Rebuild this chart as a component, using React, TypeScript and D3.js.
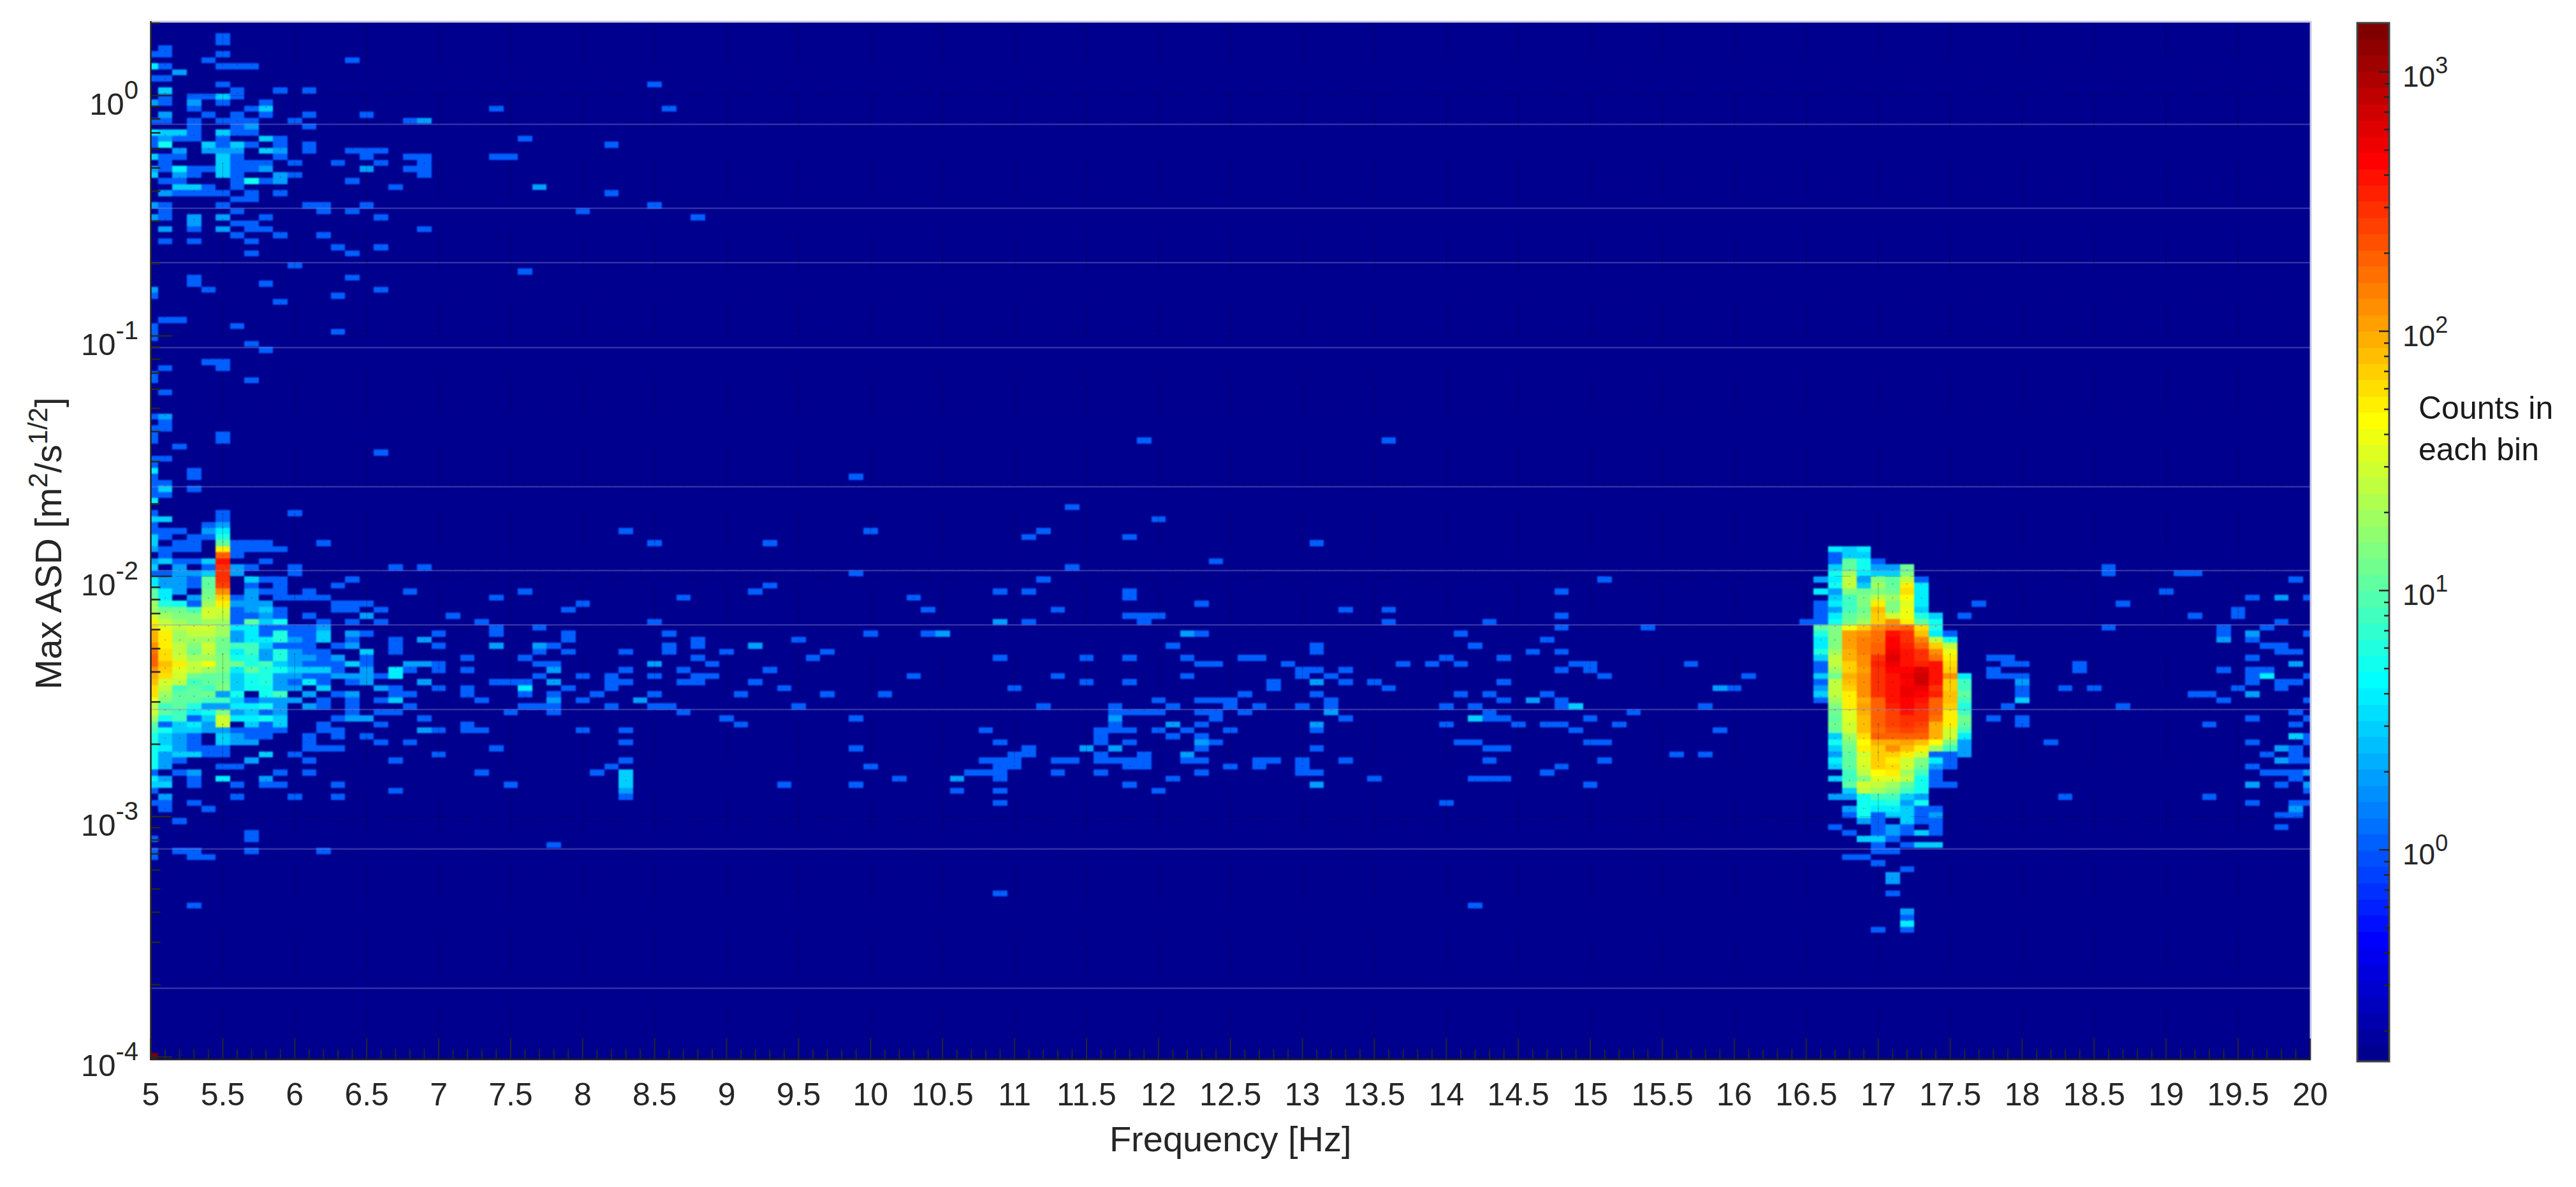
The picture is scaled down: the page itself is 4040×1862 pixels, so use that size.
import React, { useMemo } from "react";
import * as d3 from "d3";

// ---- histogram bins: column = frequency bin (0.1 Hz, centred on 5 + 0.1*col), row = ASD bin (top to bottom)
type SparseRow = [number, number[], number[]?];   // row, columns holding one count, [col,count,col,count...]
type CountRow = [number, number[], number[]?, number[]?]; // row, counts from first column, single columns, pairs

const topCloudRows: SparseRow[] = [
  [2,[5]],[3,[5]],[4,[1]],[5,[0,1,5]],[6,[4,14]],[7,[1,5,6,7],[0,4]],[8,[],[2,2]],[9,[0,1]],[10,[5,35]],
  [11,[6,9,11],[1,3]],[12,[1,3,4,6],[5,3]],[13,[1,5,8],[0,2,3,2]],[14,[3,7,24,36],[8,3]],[15,[4,6,8,11,15],[1,2]],
  [16,[0,1,3,5,6,7,10,18],[19,2]],[17,[3,6,11],[7,2]],[18,[3,6,7],[0,4,1,3,2,3,5,3]],[19,[0,2,3,5,9,26],[1,2,8,3]],
  [20,[0,5,7,9,11,32],[1,5,4,3,6,3]],[21,[11,14,15,16],[2,2,4,2,5,2,6,2,8,3,9,2]],[22,[1,2,6,9,15,18,19,24,25],[0,3,5,3]],
  [23,[1,6,7,8,10,13,16,19],[5,3]],[24,[1,3,4,6,7,18,19],[0,2,2,4,5,3,8,2,15,2]],[25,[3,6,10,19],[0,3,2,2,5,3,9,2]],
  [26,[1,2,6,8,14],[7,5,9,2]],[27,[4,6,17],[2,3,3,3,27,2]],[28,[2,3,4,5,7,9,32],[1,2]],[29,[6,7]],[30,[1,5,11,12,15,35],[0,2]],
  [31,[1,6,12,14,30]],[32,[1,8,16,38],[0,2,3,2,5,2]],[33,[6,7],[3,2]],[34,[3,7,8,19],[1,2,5,2]],[35,[6,9,12]],[36,[1,3,7]],
  [37,[13,16]],[38,[7,14]],[40,[10]],[41,[26]],[42,[3,14]],[43,[3,8]],[44,[4,16],[0,2]],[45,[0,13]],[46,[9]],[49,[1,2]],
  [50,[0,6]],[51,[0,13]],[52,[0]],[53,[7]],[54,[8]],[56,[4,5]],[57,[1,5]],[58,[0]],[59,[0,7]],[61,[1]],[65,[0],[1,2]],
  [66,[1]],[67,[0,1]],[68,[0,5]],[69,[0,5,69,86]],[70,[2]],[71,[16]],[72,[0,1]],[73,[0]],[74,[3],[0,4]],[75,[0,3,49]],
  [76,[0,1]],[77,[0,3],[1,3]],[78,[0,1]],[79,[],[0,4]],
];

const leftCoreRows: CountRow[] = [
  [81,[1,0,0,0,0,1],[10]],[82,[3,3,0,0,0,1]],[83,[1,0,0,0,1,2]],[84,[1,1,1,0,2,4]],[85,[3,1,0,1,1,6]],
  [86,[3,0,1,1,0,10,1,1,1],[12]],[87,[2,1,1,1,0,50,1,1,1,1]],[88,[0,1,0,0,0,200,1]],[89,[2,3,1,1,3,400,0,0,1]],
  [90,[3,0,2,0,1,300,2,1,0,0,1],[17,19]],[91,[1,1,2,2,3,300,2,0,0,0,1]],[92,[4,2,2,1,10,300,0,3,1,1],[14]],
  [93,[4,2,2,1,10,250,0,1,0,1],[13]],[94,[10,4,2,0,12,130,0,2,1,1],[11,18,26]],[95,[10,4,0,2,15,70,1,2,0,1,1,1,1],[24]],
  [96,[20,6,5,1,20,50,2,2,2],[13,14,15]],[97,[20,12,12,8,30,30,1,2,3,1],[13,14,16,29]],
  [98,[30,20,15,15,30,25,1,1,2,1],[11,21],[15,2]],[99,[50,25,20,15,20,20,1,10,3,5],[12,14,16,23]],
  [100,[60,35,25,30,30,20,4,4,1,1,1,1],[24,27],[12,2]],[101,[100,50,20,25,25,20,2,4,1,6,1,1],[15,20,24,29],[12,3,14,2]],
  [102,[100,50,20,20,20,12,2,4,4,6,2,1],[14,17,29],[12,3,19,2]],[103,[130,50,25,15,30,12,8,8,3,1,1,1],[13,17,20,28],[14,2,24,2,27,2]],
  [104,[160,60,25,12,25,12,4,8,2,6,2,1,1],[17,27,29],[15,3]],[105,[200,60,30,20,20,15,5,6,2,6,2,2,1],[15,22,26],[13,2]],
  [106,[200,80,50,25,40,15,12,6,8,3,2,1,1,1],[15,20,27,28],[14,3,18,2,19,2]],
  [107,[130,70,35,25,20,15,4,10,6,5,3,3,3,1],[18,20,22],[15,2,17,4,28,2]],
  [108,[100,60,30,12,10,10,3,5,6,2,2,1,1,2,2,2],[16,27],[17,4]],[109,[80,30,25,8,10,12,3,5,6,2,1,4,1],[14,24,25,26],[15,2,19,2,28,2]],
  [110,[60,25,8,10,8,15,3,5,5,2,2,0,3],[17,20,22,29],[16,2,26,4]],[111,[60,20,10,10,12,2,5,0,5,8,0,2],[13,17,18,22,26,28],[14,2]],
  [112,[40,15,10,10,8,8,3,1,2,2,2,0,1],[14,16,23],[17,3,28,2]],[113,[25,8,10,6,2,2,4,4,5,2,0,2,1],[14,18,26,27,28]],
  [114,[30,10,8,4,5,15,2,3,1,2],[14,16,17,25,28]],[115,[20,5,8,1,3,30,4,4,5,3],[13,19],[14,2,15,2]],
  [116,[10,1,3,4,2,30,0,3,1,3],[12,16,22]],[117,[8,5,3,3,2,2,1,1,1,1],[12,13,20,22,23],[19,2]],
  [118,[6,3,2,1,0,3,2,1,1],[11,13,15]],[119,[6,3,2,1,0,3,2,2],[11,16,18]],[120,[5,4,2,1,1,1],[11,12,13,24]],
  [121,[5,2,3,3,1,1,0,0,3,0,1],[20]],[122,[5,2,1,0,0,0,0,2],[11,17]],[123,[5,2,0,0,0,1,1]],[124,[1,0,1,2,0,0,0,0,0,1],[11,23]],
  [125,[4,2,0,1,0,4,0,0,2]],[126,[3,3,0,1,0,0,1,0,1,1],[13,25]],[127,[1],[17]],[128,[0,2,0,0,0,0,1,0,0,0,1],[13]],
  [129,[1,1,0,1]],[130,[0,1,0,0,1]],[132,[0,0,1]],[134,[],[7]],[135,[1],[7]],[136,[],[28]],[137,[1,0,1,1],[7,12]],
  [138,[1,0,0,1,1]],[146,[0,0,0,1]],[171,[1500]],
];

const midBandWest: SparseRow[] = [
  [84,[33,50]],[86,[35,43]],[91,[49]],[93,[43]],[94,[42]],[95,[37,53]],[96,[30]],[97,[29,54]],[99,[35]],[101,[29,36,50,54],[55,2]],
  [102,[29,38,45]],[103,[36,38],[42,2]],[104,[29,33,36,40,47]],[105,[38,46]],[106,[39],[35,2]],[107,[33,37,43]],
  [108,[30,32,35,38,39,53]],[109,[32,33,37,38,42]],[110,[29,32,44]],[111,[31,35,41,47,51]],[112,[30],[34,2]],[113,[32,35,36,45]],
  [114,[37]],[115,[40,49]],[116,[41]],[117,[30,33]],[119,[33]],[120,[49]],[122,[33]],[123,[32,50]],[124,[31,57],[33,3]],
  [125,[52],[33,3,56,2]],[126,[44,49],[33,3]],[127,[56],[33,2]],[128,[33]],
];

const midBandCentre: SparseRow[] = [
  [80,[64]],[82,[70]],[84,[62]],[85,[61,68]],[86,[81]],[89,[74]],[90,[64]],[92,[62]],[94,[59,61,68]],[95,[68]],[96,[73]],
  [97,[63,83]],[98,[68,69,70]],[99,[61,69],[59,2]],[101,[73],[72,2]],[103,[71,81]],[104,[81]],[105,[59,65,68,72,76,77]],
  [106,[73,74,79]],[107,[80,81,83]],[108,[63,72,80,82]],[109,[65,68,78,83],[81,2]],[110,[60,78]],[111,[76,81]],
  [112,[70,73,74,75,82]],[113,[62,67,71,75,77,80,82]],[114,[67,68,69,70,73,74,76],[82,2]],[115,[74,83],[67,2]],
  [116,[67,73],[71,2,81,2]],[117,[58,66,67,68,70,72,75,81]],[118,[66,71,73]],[119,[59,66,68,74],[73,2]],[120,[61,73,81],[65,2,67,2]],
  [121,[60,61,66,69],[72,2]],[122,[58,59,60,63,64,66,67,68,69,72,73,77,78,80,83]],[123,[59,60,68,69,75,77,80]],
  [124,[57,58,59,63,66,73,80,81]],[125,[59,71]],[126,[68],[81,2]],[127,[59,70]],[129,[59]],[144,[59]],
];

const midBandEast: SparseRow[] = [
  [92,[101]],[94,[98]],[97,[86]],[98,[98]],[99,[86,93]],[100,[98,104]],[101,[91]],[102,[97]],[103,[92]],[104,[96,98]],[105,[90,94]],
  [106,[87,89,91,99,100,107]],[107,[98,100]],[108,[101,111]],[109,[85,94]],[110,[86,110],[109,2]],[111,[91,93,97]],
  [112,[94,98],[96,2]],[113,[90,92,98,108],[99,3]],[114,[93,103]],[115,[93,94,100],[92,3]],[116,[90,95,97,98,102]],[117,[99,109]],
  [119,[91,92,100,101]],[120,[93,94]],[121,[106,108]],[122,[93,101]],[123,[98]],[124,[97]],[125,[85,92,93,94]],[126,[100]],
  [129,[90]],[146,[92]],
];

const peakFirstColumn = 115;
const peakRows: CountRow[] = [
  [87,[0,0,4,3,4]],[88,[0,0,1,3,3]],[89,[0,0,1,10,5,1]],[90,[0,0,3,10,5,2,2,12]],[91,[0,0,5,20,4,3,3,15]],
  [92,[0,2,4,25,2,15,10,25,1]],[93,[0,0,5,25,3,20,10,50,4]],[94,[0,4,2,15,12,15,12,60,4]],[95,[0,0,3,8,15,25,20,45,4]],
  [96,[0,1,4,8,15,50,15,35,4]],[97,[0,1,2,8,12,80,15,40,3]],[98,[0,1,4,10,15,70,30,40,6,3,0,1]],[99,[1,1,5,12,20,70,120,50,10,5]],
  [100,[0,10,15,40,70,120,170,190,60,6]],[101,[0,6,15,110,120,170,420,280,80,4,1]],[102,[0,4,15,110,140,170,450,280,140,25,5]],
  [103,[0,4,15,110,140,190,480,350,200,70,25]],[104,[0,6,20,90,140,200,560,380,280,120,40]],[105,[0,3,25,100,130,300,620,380,300,170,50]],
  [106,[0,1,25,70,130,320,540,420,330,380,60]],[107,[0,1,20,70,110,280,450,480,620,420,70]],[108,[0,3,12,90,130,280,400,520,750,380,130,4]],
  [109,[0,1,25,80,130,280,400,450,700,380,70,8]],[110,[0,2,25,70,130,280,400,500,500,300,70,8]],[111,[0,3,25,50,130,280,400,500,450,330,80,10]],
  [112,[0,1,20,50,100,200,380,480,400,200,80,8]],[113,[0,0,15,50,110,180,330,430,330,200,70,6]],[114,[0,0,12,35,100,180,250,370,300,180,50,8]],
  [115,[0,0,10,35,80,200,250,300,300,170,50,12]],[116,[0,0,12,30,80,180,250,300,250,100,50,10]],[117,[0,0,10,30,80,170,220,250,220,100,30,8]],
  [118,[0,0,3,20,60,200,200,200,180,100,30,4]],[119,[0,0,5,15,45,90,100,110,80,45,15,2]],[120,[0,0,3,12,55,70,120,80,50,20,8,2]],
  [121,[0,0,2,10,30,70,70,50,30,1,1,2]],[122,[0,0,4,10,35,70,50,30,15,4,1]],[123,[0,0,3,10,30,70,60,30,12,2,1]],
  [124,[0,0,0,8,25,45,55,20,8,1]],[125,[0,0,3,8,15,35,35,25,5,1]],[126,[0,0,0,10,30,25,20,10,5,1,1]],[127,[0,0,0,3,25,20,15,8,5]],
  [128,[0,0,2,2,5,8,8,3,2]],[129,[0,0,0,0,5,5,6,2,5]],[130,[0,0,0,2,5,4,4,3,1,1]],[131,[0,0,0,1,5,1,3,3,1,2]],
  [132,[0,0,0,0,2,1,0,3,1,1]],[133,[0,0,1,0,0,1,2,1,0,1]],[134,[0,0,0,1,0,1,2,1,3,1]],[135,[0,0,0,0,3,3,1]],
  [136,[0,0,0,0,0,1,0,1,3,3]],[137,[0,0,0,0,0,1,1]],[138,[0,0,0,1,1]],[139,[0,0,0,0,0,1]],[140,[0,0,0,0,0,0,0,1]],
  [141,[0,0,0,0,0,0,2]],[142,[0,0,0,0,0,0,2]],[144,[0,0,0,0,0,0,1]],[147,[0,0,0,0,0,0,0,2]],[148,[0,0,0,0,0,0,0,1]],
  [149,[0,0,0,0,0,0,0,4]],[150,[0,0,0,0,0,1,0,1]],
];

const rightBandRows: SparseRow[] = [
  [90,[136]],[91,[136,141,142]],[92,[149]],[94,[140]],[95,[146,150],[148,2]],[96,[127,137]],[97,[145]],[98,[142,145]],[99,[148]],
  [100,[136,144,147]],[101,[144,150],[146,2]],[102,[146],[144,2]],[103,[147,148]],[104,[148,149]],[105,[128,129,146]],
  [106,[129,130,134],[149,2]],[107,[128,134,144,146,147]],[108,[128,129,130,146,150],[147,4]],[109,[146,148,149],[130,2]],
  [110,[130,133,135,145,148]],[111,[130,142,143],[146,2]],[112,[144,150],[130,3]],[113,[129,137]],[114,[149]],[115,[128,130,146,150]],
  [116,[130,143,149]],[118,[150],[149,3]],[119,[132,146,150]],[120,[149],[148,2]],[121,[147,149]],[122,[149,150],[148,2]],[123,[146]],
  [124,[147,148,149],[150,2]],[125,[149]],[126,[148],[146,2,150,2]],[127,[150]],[128,[133,143]],[129,[146,149,150]],[130,[],[149,2]],
  [131,[148,149]],[133,[148]],
];

const xMajorTicks = d3.range(0, 31).map((k) => 5 + k * 0.5);
const xMinorTicks = d3.range(0, 151).map((k) => 5 + k * 0.1);
const yDecades = [0, -1, -2, -3, -4];
const cbDecades = [0, 1, 2, 3];
// faint horizontal streaks present across the image, as ASD values
const faintLevels = [0.76, 0.34, 0.202, 0.0895, 0.0236, 0.01057, 0.00628, 0.00279, 0.000733, 0.000193];

// MATLAB jet(64)
const jet64: string[] = d3.range(1, 65).map((pos) => {
  const u = (j: number) => (j < 1 || j > 47 ? 0 : j <= 16 ? j / 16 : j <= 31 ? 1 : (48 - j) / 16);
  const c = (v: number) => Math.round(v * 255);
  return `rgb(${c(u(pos - 24))},${c(u(pos - 8))},${c(u(pos + 8))})`;
});

const font = "'Liberation Sans', Arial, sans-serif";
const ink = "#262626";

function collect() {
  const m = new Map<string, { col: number; row: number; n: number }>();
  const put = (col: number, row: number, n: number) => { if (n > 0) m.set(col + "," + row, { col, row, n }); };
  const sparse = (rows: SparseRow[]) => rows.forEach(([r, ones, pairs]) => {
    ones.forEach((c) => put(c, r, 1));
    if (pairs) for (let k = 0; k < pairs.length; k += 2) put(pairs[k], r, pairs[k + 1]);
  });
  const counted = (rows: CountRow[], first: number) => rows.forEach(([r, counts, ones, pairs]) => {
    counts.forEach((n, k) => put(first + k, r, n));
    if (ones) ones.forEach((c) => put(c, r, 1));
    if (pairs) for (let k = 0; k < pairs.length; k += 2) put(pairs[k], r, pairs[k + 1]);
  });
  sparse(topCloudRows); sparse(midBandWest); sparse(midBandCentre); sparse(midBandEast);
  sparse(rightBandRows); counted(leftCoreRows, 0); counted(peakRows, peakFirstColumn);
  return Array.from(m.values());
}

export default function App() {
  const L = 236.5, R = 3623, T = 35, B = 1662;
  const logAt = (py: number) => (150 - py) / 377;
  const x = useMemo(() => d3.scaleLinear().domain([5, 20]).range([L, R]), []);
  const y = useMemo(() => d3.scaleLog().domain([Math.pow(10, logAt(B)), Math.pow(10, logAt(T))]).range([B, T]), []);
  const cbMin = Math.pow(10, -0.816), cbMax = Math.pow(10, 3.189);
  const cbY = useMemo(() => d3.scaleLog().domain([cbMin, cbMax]).range([1665, 36]), []);
  const cbIndex = useMemo(() => d3.scaleLog().domain([cbMin, cbMax]).range([0, 64]).clamp(true), []);
  const colorOf = (n: number) => jet64[Math.min(63, Math.floor(cbIndex(n)))];

  // ASD bin edges: 39.81 bins per decade, first edge slightly above the axis
  const edgeLog0 = logAt(33), perDecade = 377 / 9.47;
  const edge = (r: number) => Math.pow(10, edgeLog0 - r / perDecade);
  const cells = useMemo(collect, []);

  const yMinor: number[] = [];
  for (let d = -5; d <= 0; d++) for (let k = 2; k <= 9; k++) {
    const v = k * Math.pow(10, d);
    if (y(v) > T && y(v) < B) yMinor.push(v);
  }
  const yMajorVals = yDecades.map((d) => Math.pow(10, d));
  const cbMinor: number[] = [];
  for (let d = -1; d <= 3; d++) for (let k = 2; k <= 9; k++) {
    const v = k * Math.pow(10, d);
    if (v > cbMin && v < cbMax) cbMinor.push(v);
  }
  const bg = jet64[0];

  return (
    <svg width={4040} height={1862} style={{ position: "absolute", left: 0, top: 0, display: "block", background: "#fff" }} fontFamily={font}>
      <defs>
        <clipPath id="plot"><rect x={L} y={T} width={R - L} height={B - T} /></clipPath>
      </defs>
      <rect x={L} y={T} width={R - L} height={B - T} fill={bg} />
      <g clipPath="url(#plot)">
        <g style={{ filter: "blur(0.8px)" }}>
          {cells.map((c) => {
            const f = 5 + c.col * 0.1;
            const x0 = x(f - 0.05), x1 = x(f + 0.05), y0 = y(edge(c.row)), y1 = y(edge(c.row + 1));
            return <rect key={c.col + "_" + c.row} x={x0} y={y0} width={x1 - x0} height={y1 - y0} fill={colorOf(c.n)} shapeRendering="crispEdges" />;
          })}
        </g>
        {faintLevels.map((v) => (
          <line key={v} x1={L} x2={R} y1={y(v)} y2={y(v)} stroke="#8c8cd2" strokeOpacity={0.35} strokeWidth={2.5} />
        ))}
        {xMinorTicks.map((f) => (
          <line key={f} x1={x(f)} x2={x(f)} y1={T} y2={B} stroke="#000" strokeOpacity={0.28} strokeWidth={1.5} strokeDasharray="2 20" />
        ))}
        {xMajorTicks.map((f) => (
          <line key={f} x1={x(f)} x2={x(f)} y1={T} y2={B} stroke="#000" strokeOpacity={0.16} strokeWidth={1.5} strokeDasharray="60 50" />
        ))}
        {yMajorVals.map((v) => (
          <line key={v} x1={L} x2={R} y1={y(v)} y2={y(v)} stroke="#000" strokeOpacity={0.16} strokeWidth={1.5} strokeDasharray="26 14" />
        ))}
      </g>
      {/* plot frame */}
      <line x1={L} x2={R + 1} y1={T - 1} y2={T - 1} stroke="#c9c9e6" strokeWidth={3} />
      <line x1={R + 1} x2={R + 1} y1={T - 2} y2={B + 1} stroke="#c9c9e6" strokeWidth={3} />
      {xMinorTicks.map((f, k) => (
        <line key={f} x1={x(f)} x2={x(f)} y1={B} y2={B - (k % 5 === 0 ? 33 : 16)} stroke={ink} strokeWidth={2} />
      ))}
      {yMajorVals.map((v) => <line key={v} x1={L} x2={L + 33} y1={y(v)} y2={y(v)} stroke={ink} strokeWidth={2.5} />)}
      {yMinor.map((v) => <line key={v} x1={L} x2={L + 15} y1={y(v)} y2={y(v)} stroke={ink} strokeWidth={2.5} />)}
      <line x1={L} x2={L} y1={T - 2} y2={B + 1} stroke={ink} strokeWidth={2.5} />
      <line x1={L - 1} x2={R + 1} y1={B} y2={B} stroke={ink} strokeWidth={2.5} />

      {/* tick labels */}
      {xMajorTicks.map((f) => (
        <text key={f} x={x(f)} y={1734} fontSize={50} textAnchor="middle" fill={ink}>{f}</text>
      ))}
      {yDecades.map((d) => {
        const ty = y(Math.pow(10, d));
        return (
          <text key={d} x={217} y={ty + 30} fontSize={49} textAnchor="end" fill={ink}>
            10<tspan fontSize={40} dy={-25}>{d === 0 ? "0" : String(d)}</tspan>
          </text>
        );
      })}
      <text x={(L + R) / 2} y={1806} fontSize={56} textAnchor="middle" fill={ink}>Frequency [Hz]</text>
      <text transform={`translate(96,${(T + B) / 2 + 4}) rotate(-90)`} fontSize={57} textAnchor="middle" fill={ink}>
        Max ASD [m<tspan fontSize={42} dy={-22}>2</tspan><tspan dy={22}>/s</tspan><tspan fontSize={42} dy={-22}>1/2</tspan><tspan dy={22}>]</tspan>
      </text>

      {/* colour bar */}
      {jet64.map((col, k) => {
        const v0 = cbIndex.invert(k), v1 = cbIndex.invert(k + 1);
        return <rect key={k} x={3697} width={50} y={cbY(v1)} height={cbY(v0) - cbY(v1) + 0.5} fill={col} shapeRendering="crispEdges" />;
      })}
      <rect x={3697} y={36} width={50} height={1629} fill="none" stroke="#404040" strokeWidth={3} />
      {cbDecades.map((d) => (
        <g key={d}>
          <line x1={3747} x2={3731} y1={cbY(Math.pow(10, d))} y2={cbY(Math.pow(10, d))} stroke={ink} strokeWidth={2.5} />
          <text x={3768} y={cbY(Math.pow(10, d)) + 23} fontSize={46} fill={ink}>
            10<tspan fontSize={36} dy={-21}>{d}</tspan>
          </text>
        </g>
      ))}
      {cbMinor.map((v) => <line key={v} x1={3747} x2={3739} y1={cbY(v)} y2={cbY(v)} stroke={ink} strokeWidth={2.5} />)}
      <text x={3793} y={657} fontSize={50} fill="#1a1a1a">Counts in</text>
      <text x={3793} y={722} fontSize={50} fill="#1a1a1a">each bin</text>
    </svg>
  );
}
